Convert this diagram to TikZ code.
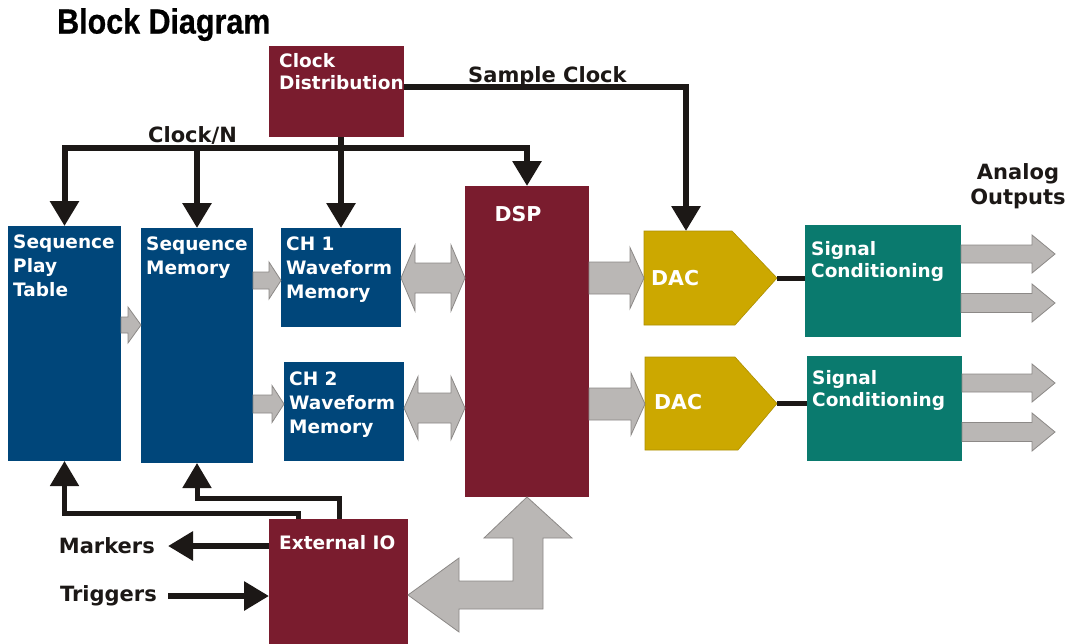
\documentclass[tikz,border=0pt]{standalone}
\usepackage{fontspec}
\setmainfont{DejaVu Sans}
\newfontfamily\titlefont[FakeStretch=0.87,FakeBold=0.6]{Liberation Sans}
\usetikzlibrary{arrows.meta,calc}
\definecolor{maroon}{RGB}{122,28,46}
\definecolor{navy}{RGB}{0,70,122}
\definecolor{gold}{RGB}{204,168,0}
\definecolor{tealc}{RGB}{10,122,110}
\definecolor{garrfill}{RGB}{186,183,181}
\definecolor{garrline}{RGB}{140,137,135}
\definecolor{ink}{RGB}{28,24,22}
% gray block arrow pointing right: #1 from, #2 to, #3 y(px), #4 body half, #5 head half, #6 head length
\newcommand\garrowR[6]{%
  \path[garrow] let \p1=(#1), \p2=(#2) in
  (\x1,-#3pt+#4pt) -- (\x2-#6pt,-#3pt+#4pt) -- (\x2-#6pt,-#3pt+#5pt) -- (\x2,-#3pt)
  -- (\x2-#6pt,-#3pt-#5pt) -- (\x2-#6pt,-#3pt-#4pt) -- (\x1,-#3pt-#4pt) -- cycle;}
% gray double block arrow
\newcommand\garrowD[6]{%
  \path[garrow] let \p1=(#1), \p2=(#2) in
  (\x1,-#3pt) -- (\x1+#6pt,-#3pt+#5pt) -- (\x1+#6pt,-#3pt+#4pt) -- (\x2-#6pt,-#3pt+#4pt)
  -- (\x2-#6pt,-#3pt+#5pt) -- (\x2,-#3pt) -- (\x2-#6pt,-#3pt-#5pt) -- (\x2-#6pt,-#3pt-#4pt)
  -- (\x1+#6pt,-#3pt-#4pt) -- (\x1+#6pt,-#3pt-#5pt) -- cycle;}
\begin{document}
\begin{tikzpicture}[x=1pt,y=-1pt,
  box/.style={anchor=north west, inner sep=0pt, outer sep=0pt},
  wlabel/.style={anchor=north west, inner sep=0pt, align=left, text=white,
    font=\bfseries\fontsize{18.5}{24}\selectfont},
  blabel/.style={inner sep=0pt, text=ink, font=\bfseries\fontsize{21}{25}\selectfont},
  wire/.style={draw=ink, line width=6pt},
  thinwire/.style={draw=ink, line width=5pt},
  garrow/.style={fill=garrfill, draw=garrline, line width=0.8pt},
  >={Triangle[width=28pt,length=25pt]}]
\useasboundingbox (0,0) rectangle (1071,643);
\fill[white] (0,0) rectangle (1071,643);

% title
\node[anchor=north west, inner sep=0pt] (title) at (57,8)
  {\titlefont\bfseries\fontsize{35}{35}\selectfont Block Diagram};

% boxes
\node[box, fill=maroon, minimum width=135pt, minimum height=91pt] (clk) at (269,46) {};
\node[box, fill=navy, minimum width=113pt, minimum height=235pt] (spt) at (8,226) {};
\node[box, fill=navy, minimum width=112pt, minimum height=235pt] (sm) at (141,228) {};
\node[box, fill=navy, minimum width=120pt, minimum height=99pt] (ch1) at (281,228) {};
\node[box, fill=navy, minimum width=120pt, minimum height=99pt] (ch2) at (284,362) {};
\node[box, fill=maroon, minimum width=124pt, minimum height=311pt] (dsp) at (465,186) {};
\node[box, minimum width=133pt, minimum height=94pt] (dac1) at (644,231) {};
\node[box, minimum width=132pt, minimum height=93pt] (dac2) at (645,357) {};
\node[box, fill=tealc, minimum width=156pt, minimum height=112pt] (sc1) at (805,225) {};
\node[box, fill=tealc, minimum width=155pt, minimum height=105pt] (sc2) at (807,356) {};
\node[box, fill=maroon, minimum width=139pt, minimum height=130pt] (eio) at (269,519) {};

\fill[gold, draw=gold!85!black, line width=0.6pt] (dac1.north west) -- ++(88,0) -- (dac1.east)
  -- ($(dac1.south west)+(91,0)$) -- (dac1.south west) -- cycle;
\fill[gold, draw=gold!85!black, line width=0.6pt] (dac2.north west) -- ++(90,0) -- (dac2.east)
  -- ($(dac2.south west)+(93,0)$) -- (dac2.south west) -- cycle;

% box labels
\node[wlabel, font=\bfseries\fontsize{18.5}{22.5}\selectfont] (clkT) at ($(clk.north west)+(10,7)$) {Clock\\Distribution};
\node[wlabel] (sptT) at ($(spt.north west)+(5,9)$) {Sequence\\Play\\Table};
\node[wlabel] (smT) at ($(sm.north west)+(5,9)$) {Sequence\\Memory};
\node[wlabel] (ch1T) at ($(ch1.north west)+(5,9)$) {CH 1\\Waveform\\Memory};
\node[wlabel] (ch2T) at ($(ch2.north west)+(5,10)$) {CH 2\\Waveform\\Memory};
\node[wlabel, anchor=north, font=\bfseries\fontsize{20.5}{24}\selectfont] (dspT) at (518,206) {DSP};
\node[wlabel, anchor=west, font=\bfseries\fontsize{20.5}{24}\selectfont] (dac1T) at ($(dac1.west)+(7,0)$) {DAC};
\node[wlabel, anchor=west, font=\bfseries\fontsize{20.5}{24}\selectfont] (dac2T) at ($(dac2.west)+(9,-1)$) {DAC};
\node[wlabel, font=\bfseries\fontsize{18.5}{22.5}\selectfont] (sc1T) at ($(sc1.north west)+(6,16)$) {Signal\\Conditioning};
\node[wlabel, font=\bfseries\fontsize{18.5}{22.5}\selectfont] (sc2T) at ($(sc2.north west)+(5,14)$) {Signal\\Conditioning};
\node[wlabel] (eioT) at ($(eio.north west)+(10,16)$) {External IO};

% black labels
\node[blabel, anchor=base west] (sclk) at (468,82) {Sample Clock};
\node[blabel, anchor=base west] (clkn) at (148,142) {Clock/N};
\node[blabel, align=center, anchor=north] (aout) at (1018,163) {Analog\\Outputs};
\node[blabel, anchor=east, inner xsep=13pt] (mark) at (168,546) {Markers};
\node[blabel, anchor=east, inner xsep=11pt] (trig) at (168,596) {Triggers};

% gray block arrows
\garrowR{spt.east}{sm.west}{325}{8}{18}{13}
\garrowR{sm.east}{ch1.west}{280.5}{8.5}{18.5}{12}
\garrowR{sm.east}{ch2.west}{404}{9}{18.5}{12}
\garrowD{ch1.east}{dsp.west}{278}{15}{33}{14}
\garrowD{ch2.east}{dsp.west}{408}{15}{31.5}{14}
\garrowR{dsp.east}{dac1.west}{278}{16}{30.5}{14}
\garrowR{dsp.east}{dac2.west}{404}{16}{31}{14}
\coordinate (out1) at (1055,254);
\coordinate (out2) at (1055,303);
\coordinate (out3) at (1055,383);
\coordinate (out4) at (1055,432);
\garrowR{sc1.east}{out1}{254}{9}{19}{23}
\garrowR{sc1.east}{out2}{303}{9.5}{19}{23}
\garrowR{sc2.east}{out3}{383}{9}{19}{23}
\garrowR{sc2.east}{out4}{432}{9.5}{19}{23}
% L-shaped arrow between External IO and DSP
\path[garrow] let \p1=(dsp.south), \p2=(eio.east) in
  (\x1,\y1) -- (\x1+45pt,-538pt) -- (\x1+16pt,-538pt) -- (\x1+16pt,-609pt)
  -- (459pt,-609pt) -- (459pt,-632pt) -- (\x2,-595pt) -- (459pt,-558pt)
  -- (459pt,-581pt) -- (\x1-14pt,-581pt) -- (\x1-14pt,-538pt) -- (\x1-43pt,-538pt) -- cycle;

% DAC to signal conditioning
\draw[draw=ink, line width=5pt] (dac1.east) -- (sc1.west |- dac1.east);
\draw[draw=ink, line width=5pt] (dac2.east) -- (sc2.west |- dac2.east);

% clock wires
\coordinate (busL) at (64.5,148);
\coordinate (busR) at (527,148);
\draw[wire,<->] (spt.north) -- (busL) -- (busR) -- (dsp.north);
\draw[wire,->] (sm.north |- busL) -- (sm.north);
\draw[wire,->] (ch1.north |- clk.south) -- (ch1.north);
\coordinate (sck) at (686,87);
\draw[wire,->] (clk.east |- sck) -- (sck) -- (sck |- dac1.north);

% external IO wires
\coordinate (e1) at (298,513);
\coordinate (e2) at (339,498);
\draw[thinwire,->] (eio.north -| e1) -- (e1) -- (e1 -| spt.south) -- (spt.south);
\draw[thinwire,->] (eio.north -| e2) -- (e2) -- (e2 -| sm.south) -- (sm.south);
\draw[wire,->] (eio.west |- mark.east) -- (mark.east);
\draw[wire,->] (trig.east) -- (eio.west |- trig.east);
\end{tikzpicture}
\end{document}
